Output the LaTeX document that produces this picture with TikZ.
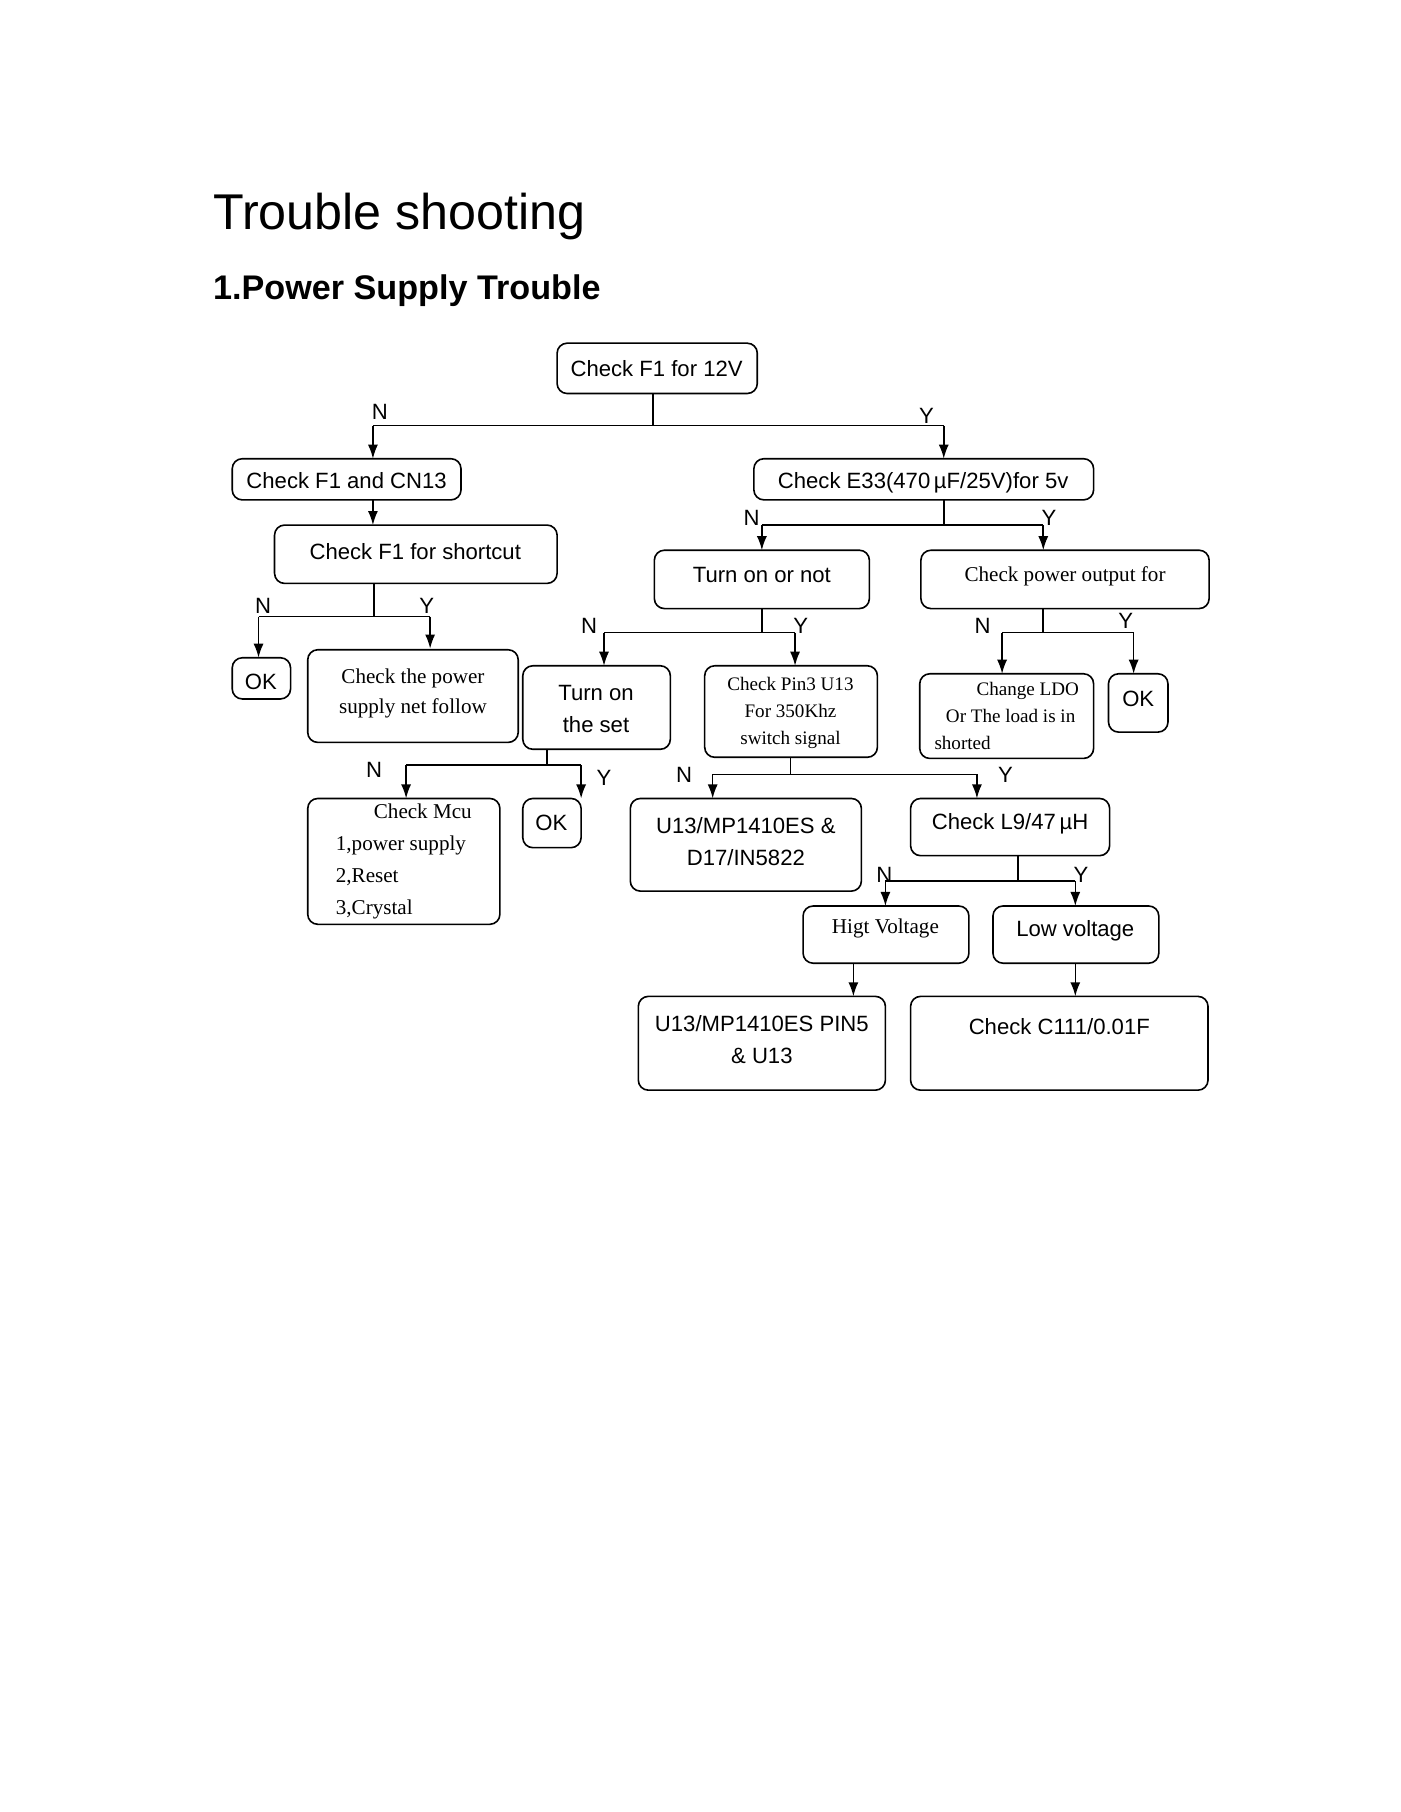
\documentclass[tikz,border=0pt]{standalone}
\usepackage{fontspec}
\setmainfont{Liberation Sans}
\newfontfamily\serf{Liberation Serif}
\usetikzlibrary{arrows.meta}
\begin{document}
\begin{tikzpicture}[x=0.02cm,y=-0.02cm,
 bx/.style={draw,rounded corners=5pt,line width=0.8pt},
 tx/.style={font=\fontsize{11}{16}\selectfont,align=center},
 st/.style={font=\serf\fontsize{10.5}{15}\selectfont,align=center},
 lb/.style={font=\fontsize{11}{13}\selectfont},
 ar/.style={-{Latex[length=7pt,width=5pt]},line width=0.8pt},
 ln/.style={line width=0.8pt}]
\useasboundingbox (0,0) rectangle (1224,1584);
\node[anchor=base west,font=\fontsize{25}{30}\selectfont,inner sep=0pt] (t1) at (186,201) {Trouble shooting};
\node[anchor=base west,font=\bfseries\fontsize{17}{20}\selectfont,inner sep=0pt] (t2) at (186,262) {1.Power Supply Trouble};
\draw[bx] (487,300) rectangle (662,344); \node[tx] (f1) at (574,322) {Check F1 for 12V};
\draw[bx] (203,401) rectangle (403,437); \node[tx] (cn) at (303,420) {Check F1 and CN13};
\draw[bx] (240,459) rectangle (487,510); \node[tx] (sc) at (363,482) {Check F1 for shortcut};
\draw[bx] (203,575) rectangle (254,611); \node[tx] (ok1) at (228,596) {OK};
\draw[bx] (269,568) rectangle (453,649); \node[st] (pn) at (361,606) {Check the power\\supply net follow};
\draw[bx] (659,401) rectangle (956,437); \node[tx] (e33) at (807,422) {Check E33(470\,µF/25V)for 5v};
\draw[bx] (572,481) rectangle (760,532); \node[tx] (ton) at (666,503) {Turn on or not};
\draw[bx] (805,481) rectangle (1057,532); \node[st,anchor=north] (ldo) at (931,489) {Check power output for};
\draw[bx] (457,582) rectangle (586,655); \node[tx] (tset) at (521,620) {Turn on\\the set};
\draw[bx] (616,582) rectangle (767,662); \node[st,font=\serf\fontsize{9.5}{13.5}\selectfont] (pin) at (691,623) {Check Pin3 U13\\For 350Khz\\switch signal};
\draw[bx] (804,589) rectangle (956,663); \node[st,font=\serf\fontsize{9.5}{13.5}\selectfont,align=left] (chl) at (880,626) {\hspace*{2.2em}Change LDO\\\hspace*{0.6em}Or The load is in\\shorted};
\draw[bx] (969,589) rectangle (1021,640); \node[tx] (ok3) at (995,611) {OK};
\draw[bx] (269,698) rectangle (437,808); \node[st,align=left,font=\serf\fontsize{10.5}{16}\selectfont] (mcu) at (353,753) {\hspace*{1.8em}Check Mcu\\1,power supply\\2,Reset\\3,Crystal};
\draw[bx] (457,698) rectangle (508,741); \node[tx] (ok2) at (482,719) {OK};
\draw[bx] (551,698) rectangle (753,779); \node[tx] (u13) at (652,736) {U13/MP1410ES \&\\D17/IN5822};
\draw[bx] (796,698) rectangle (970,748); \node[tx] (l9) at (883,720) {Check L9/47\,µH};
\draw[bx] (702,792) rectangle (847,842); \node[st] (hv) at (774,812) {Higt Voltage};
\draw[bx] (868,792) rectangle (1013,842); \node[tx] (lv) at (940,814) {Low voltage};
\draw[bx] (558,871) rectangle (774,953); \node[tx] (p5) at (666,909) {U13/MP1410ES PIN5\\\& U13};
\draw[bx] (796,871) rectangle (1056,953); \node[tx,anchor=north] (c111) at (926,884) {Check C111/0.01F};
\draw[ln] (571,344) -- (571,372); \draw[ar] (326,372) -- (326,401); \draw[ar] (825,372)--(825,401); \draw[ln] (326,372)--(825,372);
\node[lb] at (332,360) {N}; \node[lb] at (810,364) {Y};
\draw[ar] (326,437) -- (326,459);
\draw[ln] (327,510) -- (327,539) (226,539)--(376,539); \draw[ar] (226,539)--(226,575); \draw[ar] (376,539)--(376,567);
\node[lb] at (230,530) {N}; \node[lb] at (373,530) {Y};
\draw[ln] (825,437)--(825,459) (666,459)--(912,459); \draw[ar] (666,459)--(666,481); \draw[ar] (912,459)--(912,481);
\node[lb] at (657,453) {N}; \node[lb] at (917,453) {Y};
\draw[ln] (666,532)--(666,553) (528,553)--(695,553); \draw[ar] (528,553)--(528,582); \draw[ar] (695,553)--(695,582);
\node[lb] at (515,547) {N}; \node[lb] at (700,547) {Y};
\draw[ln] (912,532)--(912,553) (876,553)--(991,553); \draw[ar] (876,553)--(876,589); \draw[ar] (991,553)--(991,589);
\node[lb] at (859,547) {N}; \node[lb] at (984,543) {Y};
\draw[ln] (478,655)--(478,669) (355,669)--(508,669); \draw[ar] (355,669)--(355,698); \draw[ar] (508,669)--(508,698);
\node[lb] at (327,673) {N}; \node[lb] at (528,680) {Y};
\draw[ln] (691,662)--(691,677) (623,677)--(854,677); \draw[ar] (623,677)--(623,698); \draw[ar] (854,677)--(854,698);
\node[lb] at (598,677) {N}; \node[lb] at (879,677) {Y};
\draw[ln] (890,748)--(890,770) (774,770)--(940,770); \draw[ar] (774,770)--(774,792); \draw[ar] (940,770)--(940,792);
\node[lb] at (773,765) {N}; \node[lb] at (945,765) {Y};
\draw[ar] (746,842)--(746,871); \draw[ar] (940,842)--(940,871);
\end{tikzpicture}
\end{document}
